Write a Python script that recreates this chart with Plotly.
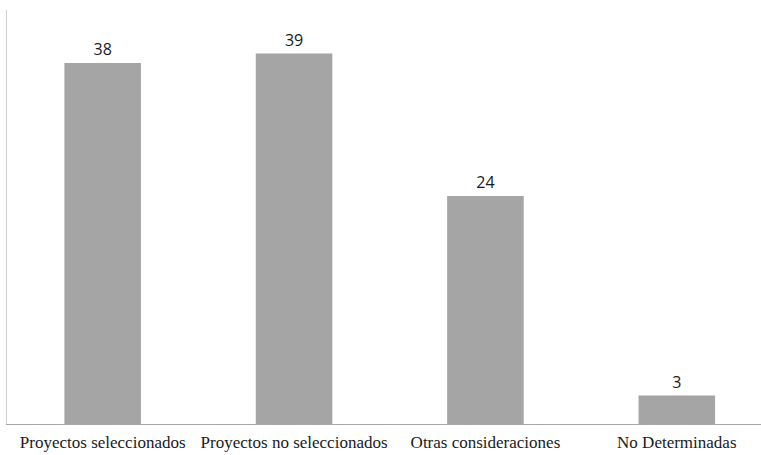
import plotly.graph_objects as go

categories = ["Proyectos seleccionados", "Proyectos no seleccionados", "Otras consideraciones", "No Determinadas"]
values = [38, 39, 24, 3]

fig = go.Figure()
fig.add_trace(go.Bar(
    x=categories, y=values, width=0.40,
    marker=dict(color="#a5a5a5", line=dict(width=0)),
    text=[str(v) for v in values], textposition="outside",
    textfont=dict(family="Open Sans", size=16, color="#1a1a1a"),
    cliponaxis=False,
))
fig.update_layout(
    width=761, height=455,
    margin=dict(l=7, r=0, t=10, b=31),
    paper_bgcolor="white", plot_bgcolor="white",
    showlegend=False,
    bargap=0.6,
)
fig.update_xaxes(
    type="category", range=[-0.5, 3.44],
    showline=True, linecolor="#a6a6a6", linewidth=1,
    showgrid=False, zeroline=False, ticks="",
    ticklabelstandoff=3,
    tickfont=dict(family="Liberation Serif", size=17, color="#1a1a1a"),
)
fig.update_yaxes(
    range=[0, 43.58], showline=True, linecolor="#d0d0d0", linewidth=1,
    showgrid=False, zeroline=False, showticklabels=False, ticks="",
)
fig.write_html("out.html")
